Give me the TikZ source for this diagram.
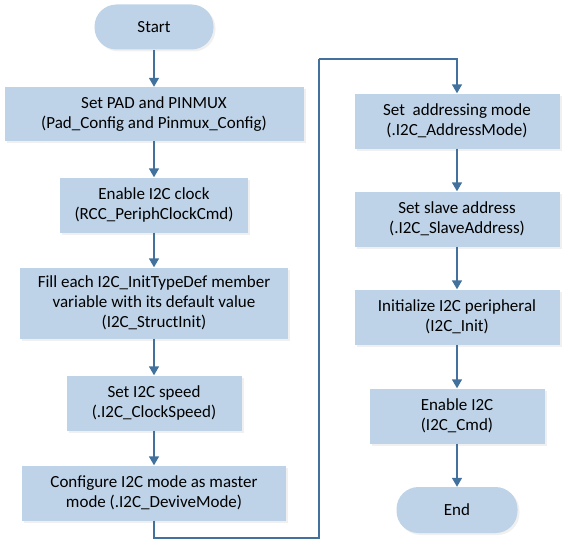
\documentclass[tikz,border=0pt]{standalone}
\usepackage{fontspec}
\setmainfont{Carlito}
\usetikzlibrary{arrows.meta,shadows}
\definecolor{boxfill}{HTML}{BED3E8}
\definecolor{flowline}{HTML}{41719C}

\begin{document}
\begin{tikzpicture}[x=1pt,y=-1pt,
        stepbox/.style={fill=boxfill,inner sep=0pt,align=center,
            font=\fontsize{17}{20}\selectfont,
            drop shadow={shadow xshift=2pt,shadow yshift=-2pt,opacity=0.12}},
        terminal/.style={stepbox,rounded corners=22pt},
        flow/.style={-{Triangle[width=10pt,length=9pt]},draw=flowline,line width=1.5pt},
        link/.style={draw=flowline,line width=1.5pt}]
    \useasboundingbox (0,0) rectangle (570,551);
    % left column
    \node[terminal,minimum width=119pt,minimum height=45pt] (start) at (154,27) {Start};
    \node[stepbox,minimum width=299pt,minimum height=54pt] (pad) at (154,114) {Set PAD and PINMUX\\(Pad\_Config and Pinmux\_Config)};
    \node[stepbox,minimum width=188pt,minimum height=55pt] (clock) at (154,205) {Enable I2C clock\\(RCC\_PeriphClockCmd)};
    \node[stepbox,minimum width=268pt,minimum height=71pt] (fill) at (154,303) {Fill each I2C\_InitTypeDef member\\variable with its default value\\(I2C\_StructInit)};
    \node[stepbox,minimum width=175pt,minimum height=55pt] (speed) at (154,403) {Set I2C speed\\(.I2C\_ClockSpeed)};
    \node[stepbox,minimum width=264pt,minimum height=55pt] (mode) at (154,493) {Configure I2C mode as master\\mode (.I2C\_DeviveMode)};
    % right column
    \node[stepbox,minimum width=205pt,minimum height=55pt] (addr) at (457,121) {Set~ addressing mode\\(.I2C\_AddressMode)};
    \node[stepbox,minimum width=205pt,minimum height=55pt] (slave) at (457,219) {Set slave address\\(.I2C\_SlaveAddress)};
    \node[stepbox,minimum width=205pt,minimum height=55pt] (init) at (457,317) {Initialize I2C peripheral\\(I2C\_Init)};
    \node[stepbox,minimum width=175pt,minimum height=55pt] (cmd) at (457,416) {Enable I2C\\(I2C\_Cmd)};
    \node[terminal,minimum width=121pt,minimum height=46pt] (end) at (457,510) {End};
    \coordinate (turn low) at (319,538);
    \coordinate (turn high) at (319,59);

    \draw[flow] (start) -- (pad);
    \draw[flow] (pad) -- (clock);
    \draw[flow] (clock) -- (fill);
    \draw[flow] (fill) -- (speed);
    \draw[flow] (speed) -- (mode);
    \draw[link] (mode.south) |- (turn low) -- (turn high);
    \draw[flow] (turn high) -| (addr.north);
    \draw[flow] (addr) -- (slave);
    \draw[flow] (slave) -- (init);
    \draw[flow] (init) -- (cmd);
    \draw[flow] (cmd) -- (end);
\end{tikzpicture}
\end{document}
